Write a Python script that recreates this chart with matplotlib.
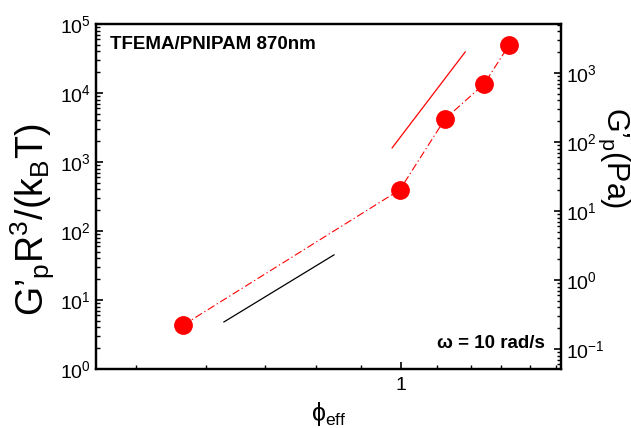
import numpy as np
import matplotlib
matplotlib.use("Agg")
import matplotlib.pyplot as plt
from matplotlib.ticker import LogLocator, NullFormatter, FixedLocator, FixedFormatter

plt.rcParams['font.family'] = ['Liberation Sans', 'DejaVu Sans']
plt.rcParams['mathtext.fontset'] = 'custom'
plt.rcParams['mathtext.rm'] = 'Liberation Sans'
plt.rcParams['mathtext.it'] = 'Liberation Sans'
plt.rcParams['mathtext.bf'] = 'Liberation Sans:bold'
plt.rcParams['mathtext.default'] = 'regular'

# data
phi_eff = [0.565, 0.997, 1.122, 1.243, 1.327]
G_reduced = [4.3, 395, 4200, 13500, 49500]

# guide lines (slopes)
red_guide_x = [0.977, 1.183]
red_guide_y = [1600, 39300]
black_guide_x = [0.629, 0.839]
black_guide_y = [4.8, 45]

# conversion factor between left (reduced) and right (Pa) axes
conv = 19.5

xlim = (0.450, 1.52)
ylim = (1, 1e5)

W, H = 631, 428
fig = plt.figure(figsize=(W / 100, H / 100), dpi=100)
ax = fig.add_axes([0.1521, 0.1379, 0.7369, 0.8061])

ax.plot(phi_eff, G_reduced, linestyle=(0, (7, 2.5, 1.2, 2.5)), color='red', lw=0.8,
        marker='o', markersize=12.5, markerfacecolor='red', markeredgecolor='red', zorder=3)
ax.plot(red_guide_x, red_guide_y, color='red', lw=0.9)
ax.plot(black_guide_x, black_guide_y, color='black', lw=0.9)

ax.set_xscale('log')
ax.set_yscale('log')
ax.set_xlim(*xlim)
ax.set_ylim(*ylim)

ax.xaxis.set_major_locator(FixedLocator([1]))
ax.xaxis.set_major_formatter(FixedFormatter(['1']))
ax.xaxis.set_minor_locator(FixedLocator([0.5, 0.6, 0.7, 0.8, 0.9, 1.1, 1.2, 1.3, 1.4, 1.5]))
ax.xaxis.set_minor_formatter(NullFormatter())

ax.yaxis.set_major_locator(LogLocator(base=10, numticks=10))
ax.yaxis.set_minor_locator(LogLocator(base=10, subs=np.arange(2, 10), numticks=10))
ax.yaxis.set_minor_formatter(NullFormatter())

for s in ax.spines.values():
    s.set_linewidth(1.6)

ax.tick_params(which='both', direction='in', top=False, right=False, labelsize=14)
ax.tick_params(which='major', length=5, width=1.2)
ax.tick_params(which='minor', length=3, width=1.0)
ax.tick_params(axis='x', pad=6)

ax.set_xlabel(r"$\phi_{eff}$", fontsize=18, labelpad=4)

ax2 = ax.twinx()
ax2.set_yscale('log')
ax2.set_ylim(ylim[0] / conv, ylim[1] / conv)
ax2.yaxis.set_major_locator(LogLocator(base=10, numticks=10))
ax2.yaxis.set_minor_locator(LogLocator(base=10, subs=np.arange(2, 10), numticks=10))
ax2.yaxis.set_minor_formatter(NullFormatter())
ax2.tick_params(which='both', direction='in', labelsize=14)
ax2.tick_params(which='major', length=5, width=1.2)
ax2.tick_params(which='minor', length=3, width=1.0)
for s in ax2.spines.values():
    s.set_linewidth(1.6)

fig.text(33 / W, 1 - 220 / H, "$\\mathregular{G\u2019_pR^3/(k_BT)}$", fontsize=27,
         rotation=90, ha='center', va='center')
fig.text(614 / W, 1 - 158 / H, "$\\mathregular{G\u2019_p(Pa)}$", fontsize=22,
         rotation=270, ha='center', va='center')

ax.text(0.03, 0.965, "TFEMA/PNIPAM 870nm", transform=ax.transAxes, fontsize=13.5,
        fontweight='bold', ha='left', va='top')
ax.text(0.965, 0.075, "ω = 10 rad/s", transform=ax.transAxes, fontsize=13.5,
        fontweight='bold', ha='right', va='center')

fig.savefig("out.png", dpi=100)
